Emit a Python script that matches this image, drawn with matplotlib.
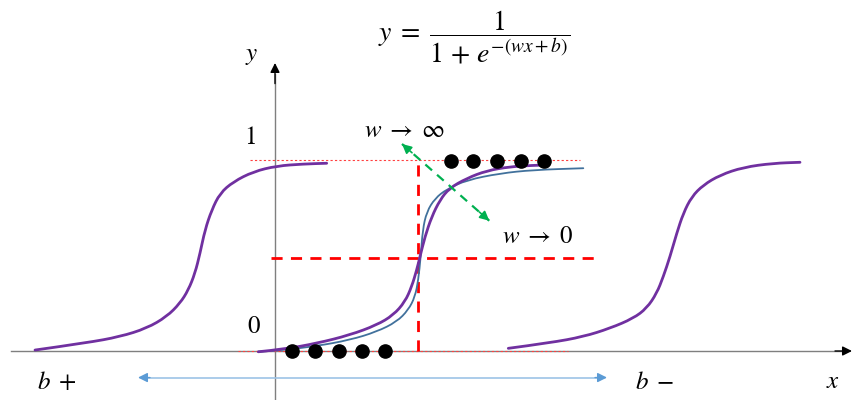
import matplotlib
matplotlib.use("Agg")
import matplotlib.pyplot as plt
from matplotlib.path import Path
from matplotlib.patches import PathPatch

plt.rcParams['mathtext.fontset'] = 'stix'
plt.rcParams['font.family'] = ['STIXGeneral', 'DejaVu Serif']

# ---- curves (x: horizontal position, y: sigmoid value) ----
left_x = [-2.40, -1.883, -1.55, -1.283, -1.083, -0.95, -0.867, -0.80, -0.75, -0.70,
          -0.633, -0.55, -0.417, -0.217, 0.017, 0.283, 0.517]
left_y = [0.005, 0.043, 0.075, 0.119, 0.180, 0.250, 0.319, 0.407, 0.511, 0.634,
          0.738, 0.826, 0.886, 0.939, 0.969, 0.979, 0.983]

right_x = [2.333, 2.75, 3.083, 3.35, 3.583, 3.717, 3.817, 3.883, 3.95, 4.017,
           4.083, 4.167, 4.283, 4.45, 4.683, 4.983, 5.25]
right_y = [0.014, 0.043, 0.075, 0.119, 0.171, 0.224, 0.302, 0.389, 0.494, 0.616,
           0.721, 0.808, 0.869, 0.921, 0.962, 0.983, 0.988]

mid_x = [-0.167, 0.083, 0.417, 0.75, 1.017, 1.183, 1.30, 1.367, 1.417, 1.45,
         1.50, 1.567, 1.65, 1.743, 1.917, 2.117, 2.35, 2.583, 2.733]
mid_y = [-0.004, 0.009, 0.040, 0.084, 0.136, 0.188, 0.258, 0.337, 0.424, 0.494,
         0.599, 0.703, 0.791, 0.852, 0.904, 0.944, 0.965, 0.972, 0.974]

steep_x = [-0.167, 0.083, 0.417, 0.75, 1.017, 1.217, 1.333, 1.40, 1.433, 1.457,
           1.477, 1.517, 1.60, 1.717, 1.917, 2.25, 2.583, 3.083]
steep_y = [-0.004, 0.005, 0.026, 0.058, 0.101, 0.153, 0.215, 0.284, 0.372, 0.494,
           0.634, 0.729, 0.799, 0.847, 0.895, 0.930, 0.948, 0.957]

dots_low_x = [0.17, 0.40, 0.64, 0.87, 1.10]
dots_low_y = [0.0, 0.0, 0.0, 0.0, 0.0]
dots_high_x = [1.757, 1.977, 2.223, 2.457, 2.69]
dots_high_y = [0.995, 0.995, 0.995, 0.995, 0.995]

center_x = 1.43
half_y = 0.487

fig = plt.figure(figsize=(8.64, 4.0), dpi=100)
ax = fig.add_axes([0, 0, 1, 1])
ax.set_xlim(-2.75, 5.89)
ax.set_ylim(-0.2565, 1.8377)
ax.axis('off')


def smooth_curve(xs, ys, color, lw, z):
    """Quadratic Bezier path using the read points as control points."""
    pts = list(zip(xs, ys))
    verts = [pts[0]]
    codes = [Path.MOVETO]
    for i in range(1, len(pts) - 1):
        mx = (pts[i][0] + pts[i + 1][0]) / 2
        my = (pts[i][1] + pts[i + 1][1]) / 2
        verts += [pts[i], (mx, my)]
        codes += [Path.CURVE3, Path.CURVE3]
    verts.append(pts[-1])
    codes.append(Path.LINETO)
    ax.add_patch(PathPatch(Path(verts, codes), facecolor='none', edgecolor=color,
                           lw=lw, zorder=z, capstyle='round'))


# axes
ax.plot([-2.64, 5.70], [0, 0], color='#7f7f7f', lw=1.0, zorder=1)
ax.annotate('', xy=(5.77, 0), xytext=(5.60, 0),
            arrowprops=dict(arrowstyle='-|>', color='black', lw=1.0,
                            mutation_scale=14, shrinkA=0, shrinkB=0))
ax.plot([0, 0], [-0.2565, 1.45], color='#7f7f7f', lw=1.0, zorder=1)
ax.annotate('', xy=(0, 1.508), xytext=(0, 1.40),
            arrowprops=dict(arrowstyle='-|>', color='black', lw=1.0,
                            mutation_scale=14, shrinkA=0, shrinkB=0))

# reference lines
ax.plot([-0.25, 3.05], [1, 1], color='#ff4040', lw=0.8, ls=(0, (2, 2)), zorder=2)
ax.plot([-0.37, 2.93], [0, 0], color='#ff4040', lw=0.8, ls=(0, (2, 2)), zorder=2)
ax.plot([center_x, center_x], [0, 1], color='#ff0000', lw=2.0, ls=(0, (4, 3)), zorder=2)
ax.plot([-0.04, 3.19], [half_y, half_y], color='#ff0000', lw=2.0, ls=(0, (4, 3)), zorder=2)

# curves
smooth_curve(left_x, left_y, '#7030a0', 2.0, 3)
smooth_curve(right_x, right_y, '#7030a0', 2.0, 3)
smooth_curve(steep_x, steep_y, '#41719c', 1.3, 3)
smooth_curve(mid_x, mid_y, '#7030a0', 2.0, 4)

# dots
ax.plot(dots_low_x, dots_low_y, 'o', color='black', ms=9.5, zorder=5)
ax.plot(dots_high_x, dots_high_y, 'o', color='black', ms=9.5, zorder=5)

# green double arrow
g0 = (1.27, 1.084)
g1 = (2.143, 0.682)
ax.plot([g0[0], g1[0]], [g0[1], g1[1]], color='#00b050', lw=1.6, ls=(0, (4, 3)), zorder=6)
ax.annotate('', xy=g0, xytext=(g0[0] + 0.1, g0[1] - 0.046),
            arrowprops=dict(arrowstyle='-|>', color='#00b050', lw=1.2,
                            mutation_scale=14, shrinkA=0, shrinkB=0), zorder=6)
ax.annotate('', xy=g1, xytext=(g1[0] - 0.1, g1[1] + 0.046),
            arrowprops=dict(arrowstyle='-|>', color='#00b050', lw=1.2,
                            mutation_scale=14, shrinkA=0, shrinkB=0), zorder=6)

# blue double arrow
by = -0.139
ax.plot([-1.30, 3.25], [by, by], color='#9dc3e6', lw=1.2, zorder=2)
ax.annotate('', xy=(-1.37, by), xytext=(-1.25, by),
            arrowprops=dict(arrowstyle='-|>', color='#5b9bd5', lw=1.0,
                            mutation_scale=14, shrinkA=0, shrinkB=0))
ax.annotate('', xy=(3.32, by), xytext=(3.20, by),
            arrowprops=dict(arrowstyle='-|>', color='#5b9bd5', lw=1.0,
                            mutation_scale=14, shrinkA=0, shrinkB=0))

# texts
fs = 18
ax.text(1.99, 1.64, r'$y\;=\;\dfrac{1}{1\,+\,e^{-(wx+b)}}$', fontsize=20,
        ha='center', va='center')
ax.text(-0.23, 1.55, r'$y$', fontsize=fs, ha='center', va='center')
ax.text(-0.25, 1.115, r'$1$', fontsize=fs, ha='center', va='center')
ax.text(-0.21, 0.126, r'$0$', fontsize=fs, ha='center', va='center')
ax.text(1.29, 1.152, r'$w\;\rightarrow\;\infty$', fontsize=fs, ha='center', va='center')
ax.text(2.62, 0.597, r'$w\;\rightarrow\;0$', fontsize=fs, ha='center', va='center')
ax.text(-2.18, -0.168, r'$b\;+$', fontsize=fs, ha='center', va='center')
ax.text(3.79, -0.168, r'$b\;-$', fontsize=fs, ha='center', va='center')
ax.text(5.58, -0.162, r'$x$', fontsize=fs, ha='center', va='center')

fig.savefig('out.png', dpi=100)
